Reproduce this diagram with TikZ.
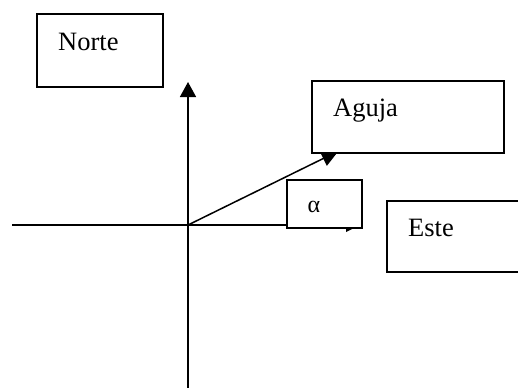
\documentclass[tikz,border=0pt]{standalone}
\usepackage{fontspec}
\setmainfont{Liberation Serif}
\usetikzlibrary{arrows.meta}
\tikzset{
  boxed/.style={draw=black,line width=1.5pt,fill=white},
  lbl/.style={anchor=base west,inner sep=0pt,font=\fontsize{26.5}{30}\selectfont},
  axis/.style={draw=black,line width=1.5pt},
  tipn/.style={-{Triangle[length=15pt,width=16pt]}},
  tipa/.style={-{Triangle[length=17pt,width=16pt]}}
}
\begin{document}
\begin{tikzpicture}[x=1pt,y=-1pt]
\useasboundingbox (0,0) rectangle (518,389);
\coordinate (o) at (188,225);
\coordinate (w) at (12,225);
\coordinate (e) at (360,225);
\coordinate (n) at (188,82);
\coordinate (s) at (188,388);
\coordinate (ag) at (338.5,151);
\draw[axis] (w) -- (e);
\draw[axis,tipn] (o) -- (n);
\draw[axis] (o) -- (s);
\draw[axis,tipa] (o) -- (ag);
\fill[black] (346,228) -- (354,228) -- (346,232) -- cycle;
\node[boxed,inner sep=0pt,minimum width=126pt,minimum height=73pt] (norte) at (100,50.5) {};
\node[lbl] (tn) at (58,50) {Norte};
\node[boxed,inner sep=0pt,minimum width=192pt,minimum height=72pt] (aguja) at (408,117) {};
\node[lbl] (ta) at (333,116.5) {Aguja};
\node[boxed,inner sep=0pt,minimum width=75pt,minimum height=48pt] (alfa) at (324.5,204) {};
\node[anchor=base west,inner sep=0pt,font=\fontsize{24}{28}\selectfont] (ta2) at (307.5,212) {α};
\path[boxed] (520,201) -- (387,201) -- (387,272) -- (520,272);
\node[lbl] (te) at (408,236) {Este};
\end{tikzpicture}
\end{document}
